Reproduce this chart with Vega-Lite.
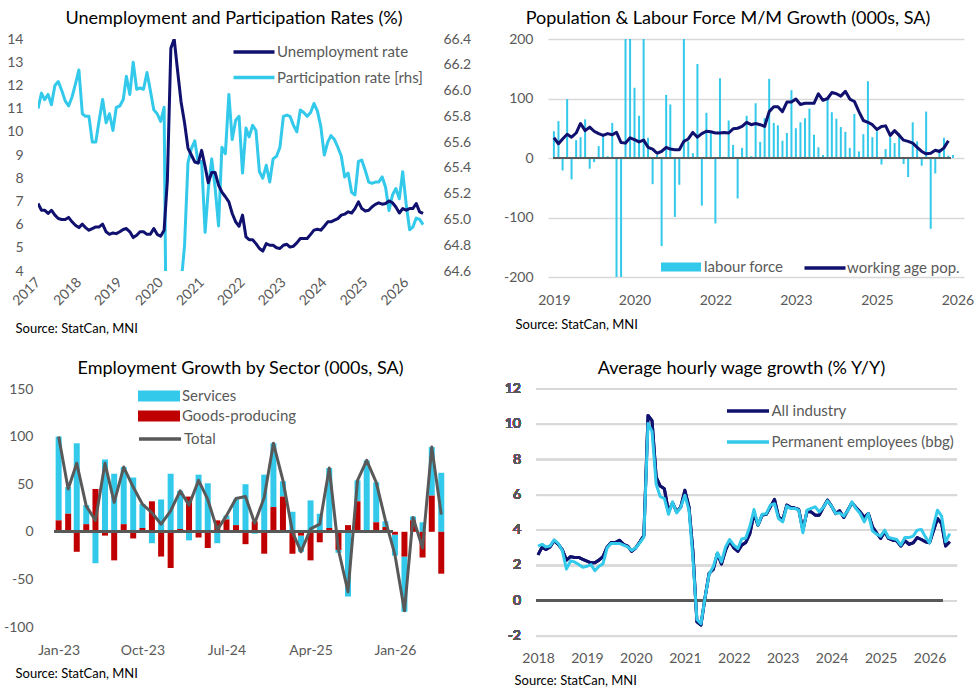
{
  "$schema": "https://vega.github.io/schema/vega-lite/v6.json",
  "background": "white",
  "padding": {"left": 0, "top": 10, "right": 0, "bottom": 0},
  "config": {
    "font": "Lato",
    "view": {"stroke": null},
    "axis": {"domain": false, "ticks": false, "labelOverlap": false, "labelFont": "Lato", "labelFontSize": 14, "labelColor": "#595959", "labelPadding": 15, "gridColor": "#d9d9d9", "gridWidth": 1.5, "titleFont": "Lato", "titleFontSize": 13, "titleFontWeight": "normal", "titleColor": "#000000"},
    "legend": {"labelFont": "Lato", "labelFontSize": 15, "labelColor": "#595959", "labelLimit": 400, "padding": 0, "orient": "none"},
    "title": {"font": "Lato", "fontSize": 18, "fontWeight": "normal", "color": "#000000", "frame": "group", "anchor": "middle", "offset": 4},
    "text": {"font": "Lato", "fontSize": 14, "color": "#595959", "align": "right", "baseline": "middle", "dx": -15}
  },
  "datasets": {
    "p1": [
      {"d":"2017-01-01","u":6.91,"p":65.86},{"d":"2017-02-01","u":6.62,"p":65.98},{"d":"2017-03-01","u":6.62,"p":65.93},{"d":"2017-04-01","u":6.48,"p":65.97},{"d":"2017-05-01","u":6.62,"p":65.89},{"d":"2017-06-01","u":6.41,"p":66.04},{"d":"2017-07-01","u":6.26,"p":66.07},{"d":"2017-08-01","u":6.22,"p":66.0},{"d":"2017-09-01","u":6.22,"p":65.92},{"d":"2017-10-01","u":6.31,"p":65.88},{"d":"2017-11-01","u":6.12,"p":65.95},{"d":"2017-12-01","u":5.97,"p":66.05},
      {"d":"2018-01-01","u":5.87,"p":66.16},{"d":"2018-02-01","u":6.02,"p":65.82},{"d":"2018-03-01","u":5.87,"p":65.8},{"d":"2018-04-01","u":5.76,"p":65.8},{"d":"2018-05-01","u":5.83,"p":65.6},{"d":"2018-06-01","u":5.9,"p":65.6},{"d":"2018-07-01","u":5.9,"p":65.77},{"d":"2018-08-01","u":6.02,"p":65.93},{"d":"2018-09-01","u":5.69,"p":65.75},{"d":"2018-10-01","u":5.58,"p":65.82},{"d":"2018-11-01","u":5.64,"p":65.69},{"d":"2018-12-01","u":5.61,"p":65.87},
      {"d":"2019-01-01","u":5.69,"p":65.88},{"d":"2019-02-01","u":5.79,"p":65.93},{"d":"2019-03-01","u":5.83,"p":66.11},{"d":"2019-04-01","u":5.69,"p":65.97},{"d":"2019-05-01","u":5.44,"p":66.22},{"d":"2019-06-01","u":5.54,"p":66.01},{"d":"2019-07-01","u":5.69,"p":66.02},{"d":"2019-08-01","u":5.69,"p":66.01},{"d":"2019-09-01","u":5.58,"p":66.14},{"d":"2019-10-01","u":5.58,"p":66.0},{"d":"2019-11-01","u":5.83,"p":65.85},{"d":"2019-12-01","u":5.58,"p":65.82},
      {"d":"2020-01-01","u":5.5,"p":65.76},{"d":"2020-02-01","u":5.76,"p":65.87},{"d":"2020-03-01","u":7.9,"p":63.0},{"d":"2020-04-01","u":13.6,"p":60.5},{"d":"2020-05-01","u":14.0,"p":61.0},{"d":"2020-06-01","u":12.6,"p":63.2},{"d":"2020-07-01","u":11.3,"p":64.5},{"d":"2020-08-01","u":10.4,"p":64.79},{"d":"2020-09-01","u":9.3,"p":65.44},{"d":"2020-10-01","u":9.0,"p":65.55},{"d":"2020-11-01","u":8.7,"p":65.61},{"d":"2020-12-01","u":8.65,"p":65.44},
      {"d":"2021-01-01","u":9.2,"p":65.45},{"d":"2021-02-01","u":8.5,"p":64.9},{"d":"2021-03-01","u":7.8,"p":65.23},{"d":"2021-04-01","u":8.25,"p":65.47},{"d":"2021-05-01","u":8.25,"p":65.25},{"d":"2021-06-01","u":7.7,"p":64.95},{"d":"2021-07-01","u":7.4,"p":65.56},{"d":"2021-08-01","u":7.2,"p":65.51},{"d":"2021-09-01","u":6.98,"p":65.97},{"d":"2021-10-01","u":6.48,"p":65.62},{"d":"2021-11-01","u":6.12,"p":65.77},{"d":"2021-12-01","u":5.93,"p":65.8},
      {"d":"2022-01-01","u":6.41,"p":65.36},{"d":"2022-02-01","u":5.47,"p":65.71},{"d":"2022-03-01","u":5.35,"p":65.64},{"d":"2022-04-01","u":5.35,"p":65.73},{"d":"2022-05-01","u":5.18,"p":65.69},{"d":"2022-06-01","u":4.97,"p":65.37},{"d":"2022-07-01","u":4.86,"p":65.32},{"d":"2022-08-01","u":5.18,"p":65.42},{"d":"2022-09-01","u":5.11,"p":65.29},{"d":"2022-10-01","u":5.11,"p":65.47},{"d":"2022-11-01","u":5.0,"p":65.49},{"d":"2022-12-01","u":4.97,"p":65.56},
      {"d":"2023-01-01","u":5.11,"p":65.8},{"d":"2023-02-01","u":5.15,"p":65.81},{"d":"2023-03-01","u":5.03,"p":65.8},{"d":"2023-04-01","u":5.07,"p":65.73},{"d":"2023-05-01","u":5.21,"p":65.68},{"d":"2023-06-01","u":5.4,"p":65.85},{"d":"2023-07-01","u":5.4,"p":65.83},{"d":"2023-08-01","u":5.4,"p":65.8},{"d":"2023-09-01","u":5.58,"p":65.83},{"d":"2023-10-01","u":5.76,"p":65.9},{"d":"2023-11-01","u":5.8,"p":65.84},{"d":"2023-12-01","u":5.76,"p":65.72},
      {"d":"2024-01-01","u":5.93,"p":65.5},{"d":"2024-02-01","u":6.12,"p":65.6},{"d":"2024-03-01","u":6.12,"p":65.65},{"d":"2024-04-01","u":6.19,"p":65.62},{"d":"2024-05-01","u":6.26,"p":65.56},{"d":"2024-06-01","u":6.41,"p":65.49},{"d":"2024-07-01","u":6.45,"p":65.33},{"d":"2024-08-01","u":6.55,"p":65.36},{"d":"2024-09-01","u":6.5,"p":65.21},{"d":"2024-10-01","u":6.69,"p":65.19},{"d":"2024-11-01","u":6.98,"p":65.45},{"d":"2024-12-01","u":6.69,"p":65.46},
      {"d":"2025-01-01","u":6.59,"p":65.38},{"d":"2025-02-01","u":6.62,"p":65.29},{"d":"2025-03-01","u":6.76,"p":65.28},{"d":"2025-04-01","u":6.87,"p":65.29},{"d":"2025-05-01","u":6.94,"p":65.29},{"d":"2025-06-01","u":6.88,"p":65.33},{"d":"2025-07-01","u":6.91,"p":65.25},{"d":"2025-08-01","u":7.02,"p":65.07},{"d":"2025-09-01","u":6.94,"p":65.19},{"d":"2025-10-01","u":6.76,"p":65.24},{"d":"2025-11-01","u":6.5,"p":65.16},{"d":"2025-12-01","u":6.69,"p":65.37},
      {"d":"2026-01-01","u":6.62,"p":65.12},{"d":"2026-02-01","u":6.69,"p":64.92},{"d":"2026-03-01","u":6.69,"p":64.94},{"d":"2026-04-01","u":6.91,"p":65.01},{"d":"2026-05-01","u":6.55,"p":65.0},{"d":"2026-06-01","u":6.48,"p":64.96}
    ],
    "p2": [
      {"d":"2019-01-01","lf":45,"wap":34},{"d":"2019-02-01","lf":62,"wap":24},{"d":"2019-03-01","lf":-21,"wap":32},{"d":"2019-04-01","lf":99,"wap":40},{"d":"2019-05-01","lf":-36,"wap":35},{"d":"2019-06-01","lf":30,"wap":42},{"d":"2019-07-01","lf":35,"wap":58},{"d":"2019-08-01","lf":65,"wap":46},{"d":"2019-09-01","lf":-18,"wap":52},{"d":"2019-10-01","lf":-7,"wap":45},{"d":"2019-11-01","lf":20,"wap":41},{"d":"2019-12-01","lf":36,"wap":38},
      {"d":"2020-01-01","lf":3,"wap":41},{"d":"2020-02-01","lf":59,"wap":39},{"d":"2020-03-01","lf":-420,"wap":43},{"d":"2020-04-01","lf":-320,"wap":26},{"d":"2020-05-01","lf":320,"wap":25},{"d":"2020-06-01","lf":270,"wap":34},{"d":"2020-07-01","lf":118,"wap":31},{"d":"2020-08-01","lf":71,"wap":27},{"d":"2020-09-01","lf":230,"wap":30},{"d":"2020-10-01","lf":34,"wap":18},{"d":"2020-11-01","lf":-44,"wap":15},{"d":"2020-12-01","lf":5,"wap":8},
      {"d":"2021-01-01","lf":-148,"wap":11},{"d":"2021-02-01","lf":106,"wap":18},{"d":"2021-03-01","lf":90,"wap":15},{"d":"2021-04-01","lf":-99,"wap":14},{"d":"2021-05-01","lf":-45,"wap":14},{"d":"2021-06-01","lf":215,"wap":28},{"d":"2021-07-01","lf":28,"wap":32},{"d":"2021-08-01","lf":8,"wap":43},{"d":"2021-09-01","lf":158,"wap":35},{"d":"2021-10-01","lf":-80,"wap":41},{"d":"2021-11-01","lf":76,"wap":45},{"d":"2021-12-01","lf":42,"wap":44},
      {"d":"2022-01-01","lf":-110,"wap":42},{"d":"2022-02-01","lf":134,"wap":42},{"d":"2022-03-01","lf":2,"wap":43},{"d":"2022-04-01","lf":63,"wap":42},{"d":"2022-05-01","lf":22,"wap":49},{"d":"2022-06-01","lf":-68,"wap":50},{"d":"2022-07-01","lf":17,"wap":53},{"d":"2022-08-01","lf":71,"wap":60},{"d":"2022-09-01","lf":3,"wap":56},{"d":"2022-10-01","lf":92,"wap":58},{"d":"2022-11-01","lf":27,"wap":56},{"d":"2022-12-01","lf":67,"wap":53},
      {"d":"2023-01-01","lf":133,"wap":78},{"d":"2023-02-01","lf":59,"wap":86},{"d":"2023-03-01","lf":55,"wap":86},{"d":"2023-04-01","lf":29,"wap":78},{"d":"2023-05-01","lf":42,"wap":94},{"d":"2023-06-01","lf":114,"wap":94},{"d":"2023-07-01","lf":50,"wap":99},{"d":"2023-08-01","lf":60,"wap":90},{"d":"2023-09-01","lf":67,"wap":92},{"d":"2023-10-01","lf":83,"wap":92},{"d":"2023-11-01","lf":39,"wap":92},{"d":"2023-12-01","lf":18,"wap":108},
      {"d":"2024-01-01","lf":5,"wap":97},{"d":"2024-02-01","lf":101,"wap":100},{"d":"2024-03-01","lf":77,"wap":110},{"d":"2024-04-01","lf":66,"wap":108},{"d":"2024-05-01","lf":52,"wap":104},{"d":"2024-06-01","lf":44,"wap":112},{"d":"2024-07-01","lf":17,"wap":99},{"d":"2024-08-01","lf":74,"wap":95},{"d":"2024-09-01","lf":11,"wap":78},{"d":"2024-10-01","lf":40,"wap":63},{"d":"2024-11-01","lf":129,"wap":60},{"d":"2024-12-01","lf":35,"wap":56},
      {"d":"2025-01-01","lf":45,"wap":48},{"d":"2025-02-01","lf":-11,"wap":53},{"d":"2025-03-01","lf":15,"wap":54},{"d":"2025-04-01","lf":35,"wap":38},{"d":"2025-05-01","lf":25,"wap":46},{"d":"2025-06-01","lf":42,"wap":38},{"d":"2025-07-01","lf":-10,"wap":30},{"d":"2025-08-01","lf":-32,"wap":28},{"d":"2025-09-01","lf":60,"wap":25},{"d":"2025-10-01","lf":28,"wap":18},{"d":"2025-11-01","lf":-13,"wap":11},{"d":"2025-12-01","lf":78,"wap":7},
      {"d":"2026-01-01","lf":-119,"wap":8},{"d":"2026-02-01","lf":-26,"wap":13},{"d":"2026-03-01","lf":15,"wap":11},{"d":"2026-04-01","lf":34,"wap":17},{"d":"2026-05-01","lf":4,"wap":29},{"d":"2026-06-01","lf":5}
    ],
    "p3": [
      {"d":"2023-01-01","Services":88,"Goods-producing":12,"Total":100},{"d":"2023-02-01","Services":28,"Goods-producing":19,"Total":45},{"d":"2023-03-01","Services":93,"Goods-producing":-21,"Total":72},{"d":"2023-04-01","Services":20,"Goods-producing":8,"Total":27},{"d":"2023-05-01","Services":-33,"Goods-producing":45,"Total":12},{"d":"2023-06-01","Services":76,"Goods-producing":-4,"Total":72},{"d":"2023-07-01","Services":61,"Goods-producing":-30,"Total":31},{"d":"2023-08-01","Services":60,"Goods-producing":8,"Total":68},{"d":"2023-09-01","Services":57,"Goods-producing":-7,"Total":47},{"d":"2023-10-01","Services":25,"Goods-producing":4,"Total":29},{"d":"2023-11-01","Services":-12,"Goods-producing":32,"Total":20},{"d":"2023-12-01","Services":34,"Goods-producing":-26,"Total":8},
      {"d":"2024-01-01","Services":61,"Goods-producing":-38,"Total":22},{"d":"2024-02-01","Services":40,"Goods-producing":3,"Total":43},{"d":"2024-03-01","Services":-9,"Goods-producing":37,"Total":28},{"d":"2024-04-01","Services":60,"Goods-producing":-6,"Total":54},{"d":"2024-05-01","Services":51,"Goods-producing":-17,"Total":34},{"d":"2024-06-01","Services":-12,"Goods-producing":12,"Total":2},{"d":"2024-07-01","Services":4,"Goods-producing":13,"Total":17},{"d":"2024-08-01","Services":27,"Goods-producing":7,"Total":35},{"d":"2024-09-01","Services":50,"Goods-producing":-13,"Total":37},{"d":"2024-10-01","Services":-2,"Goods-producing":11,"Total":9},{"d":"2024-11-01","Services":60,"Goods-producing":-23,"Total":36},{"d":"2024-12-01","Services":67,"Goods-producing":26,"Total":93},
      {"d":"2025-01-01","Services":16,"Goods-producing":37,"Total":54},{"d":"2025-02-01","Services":21,"Goods-producing":-23,"Total":0},{"d":"2025-03-01","Services":-17,"Goods-producing":-4,"Total":-21},{"d":"2025-04-01","Services":33,"Goods-producing":-30,"Total":3},{"d":"2025-05-01","Services":19,"Goods-producing":-11,"Total":8},{"d":"2025-06-01","Services":63,"Goods-producing":4,"Total":67},{"d":"2025-07-01","Services":-3,"Goods-producing":-19,"Total":-19},{"d":"2025-08-01","Services":-68,"Goods-producing":7,"Total":-63},{"d":"2025-09-01","Services":22,"Goods-producing":32,"Total":54},{"d":"2025-10-01","Services":75,"Goods-producing":0,"Total":75},{"d":"2025-11-01","Services":42,"Goods-producing":10,"Total":52},{"d":"2025-12-01","Services":6,"Goods-producing":5,"Total":12},
      {"d":"2026-01-01","Services":-22,"Goods-producing":-3,"Total":-24},{"d":"2026-02-01","Services":-58,"Goods-producing":-26,"Total":-83},{"d":"2026-03-01","Services":4,"Goods-producing":12,"Total":15},{"d":"2026-04-01","Services":10,"Goods-producing":-27,"Total":-17},{"d":"2026-05-01","Services":51,"Goods-producing":38,"Total":89},{"d":"2026-06-01","Services":62,"Goods-producing":-44,"Total":18}
    ],
    "p4": [
      {"d":"2018-01-01","a":2.6,"p":3.1},{"d":"2018-02-01","a":3.05,"p":3.2},{"d":"2018-03-01","a":2.9,"p":3.05},{"d":"2018-04-01","a":3.05,"p":3.1},{"d":"2018-05-01","a":3.4,"p":3.45},{"d":"2018-06-01","a":3.2,"p":3.25},{"d":"2018-07-01","a":2.9,"p":2.85},{"d":"2018-08-01","a":2.3,"p":1.8},{"d":"2018-09-01","a":2.5,"p":2.25},{"d":"2018-10-01","a":2.45,"p":2.2},{"d":"2018-11-01","a":2.45,"p":2.05},{"d":"2018-12-01","a":2.35,"p":1.9},
      {"d":"2019-01-01","a":2.25,"p":1.95},{"d":"2019-02-01","a":2.15,"p":2.05},{"d":"2019-03-01","a":2.15,"p":1.7},{"d":"2019-04-01","a":2.3,"p":1.95},{"d":"2019-05-01","a":2.5,"p":2.1},{"d":"2019-06-01","a":3.05,"p":3.0},{"d":"2019-07-01","a":3.3,"p":3.25},{"d":"2019-08-01","a":3.3,"p":3.25},{"d":"2019-09-01","a":3.43,"p":3.25},{"d":"2019-10-01","a":3.2,"p":3.15},{"d":"2019-11-01","a":3.1,"p":3.05},{"d":"2019-12-01","a":2.8,"p":2.85},
      {"d":"2020-01-01","a":3.0,"p":3.0},{"d":"2020-02-01","a":3.35,"p":3.3},{"d":"2020-03-01","a":3.7,"p":3.6},{"d":"2020-04-01","a":10.5,"p":10.05},{"d":"2020-05-01","a":10.2,"p":9.6},{"d":"2020-06-01","a":7.0,"p":6.6},{"d":"2020-07-01","a":6.5,"p":5.9},{"d":"2020-08-01","a":6.35,"p":5.8},{"d":"2020-09-01","a":5.04,"p":4.9},{"d":"2020-10-01","a":5.55,"p":5.6},{"d":"2020-11-01","a":5.04,"p":4.98},{"d":"2020-12-01","a":5.3,"p":5.28},
      {"d":"2021-01-01","a":6.26,"p":5.98},{"d":"2021-02-01","a":5.3,"p":5.13},{"d":"2021-03-01","a":2.9,"p":2.5},{"d":"2021-04-01","a":-1.2,"p":-1.06},{"d":"2021-05-01","a":-1.38,"p":-1.3},{"d":"2021-06-01","a":0.2,"p":0.2},{"d":"2021-07-01","a":1.55,"p":1.5},{"d":"2021-08-01","a":1.77,"p":1.92},{"d":"2021-09-01","a":2.68,"p":2.72},{"d":"2021-10-01","a":2.08,"p":2.2},{"d":"2021-11-01","a":2.87,"p":3.05},{"d":"2021-12-01","a":3.4,"p":3.47},
      {"d":"2022-01-01","a":3.0,"p":3.15},{"d":"2022-02-01","a":2.8,"p":2.96},{"d":"2022-03-01","a":3.15,"p":3.5},{"d":"2022-04-01","a":3.3,"p":3.55},{"d":"2022-05-01","a":3.8,"p":4.2},{"d":"2022-06-01","a":4.94,"p":5.17},{"d":"2022-07-01","a":4.28,"p":4.28},{"d":"2022-08-01","a":4.85,"p":4.9},{"d":"2022-09-01","a":4.9,"p":4.93},{"d":"2022-10-01","a":5.32,"p":5.42},{"d":"2022-11-01","a":5.74,"p":5.5},{"d":"2022-12-01","a":4.75,"p":4.66},
      {"d":"2023-01-01","a":4.57,"p":4.47},{"d":"2023-02-01","a":5.42,"p":5.36},{"d":"2023-03-01","a":5.3,"p":5.23},{"d":"2023-04-01","a":5.25,"p":5.23},{"d":"2023-05-01","a":5.17,"p":5.13},{"d":"2023-06-01","a":4.0,"p":3.85},{"d":"2023-07-01","a":5.04,"p":5.13},{"d":"2023-08-01","a":5.04,"p":5.23},{"d":"2023-09-01","a":4.85,"p":5.32},{"d":"2023-10-01","a":4.85,"p":5.04},{"d":"2023-11-01","a":5.3,"p":5.3},{"d":"2023-12-01","a":5.7,"p":5.66},
      {"d":"2024-01-01","a":5.36,"p":5.36},{"d":"2024-02-01","a":4.94,"p":4.94},{"d":"2024-03-01","a":5.1,"p":4.98},{"d":"2024-04-01","a":4.72,"p":4.79},{"d":"2024-05-01","a":5.13,"p":5.1},{"d":"2024-06-01","a":5.55,"p":5.6},{"d":"2024-07-01","a":5.28,"p":5.23},{"d":"2024-08-01","a":5.04,"p":4.94},{"d":"2024-09-01","a":4.72,"p":4.47},{"d":"2024-10-01","a":4.94,"p":4.94},{"d":"2024-11-01","a":4.19,"p":3.96},{"d":"2024-12-01","a":3.85,"p":3.77},
      {"d":"2025-01-01","a":3.53,"p":3.66},{"d":"2025-02-01","a":3.91,"p":4.0},{"d":"2025-03-01","a":3.53,"p":3.58},{"d":"2025-04-01","a":3.43,"p":3.53},{"d":"2025-05-01","a":3.4,"p":3.47},{"d":"2025-06-01","a":3.1,"p":3.15},{"d":"2025-07-01","a":3.4,"p":3.58},{"d":"2025-08-01","a":3.2,"p":3.58},{"d":"2025-09-01","a":3.28,"p":3.66},{"d":"2025-10-01","a":3.58,"p":4.0},{"d":"2025-11-01","a":3.47,"p":4.04},{"d":"2025-12-01","a":3.34,"p":3.62},
      {"d":"2026-01-01","a":3.28,"p":3.28},{"d":"2026-02-01","a":4.0,"p":4.28},{"d":"2026-03-01","a":4.66,"p":5.13},{"d":"2026-04-01","a":4.38,"p":4.79},{"d":"2026-05-01","a":3.1,"p":3.34},{"d":"2026-06-01","a":3.34,"p":3.8}
    ],
    "p3grid": [{"g": -100}, {"g": -50}, {"g": 0}, {"g": 50}, {"g": 100}, {"g": 150}]
  },
  "vconcat": [
    {
      "hconcat": [
        {
          "width": 390,
          "height": 232,
          "title": {"text": "Unemployment and Participation Rates (%)", "dx": 1},
          "data": {"name": "p1"},
          "encoding": {
            "x": {
              "field": "d", "type": "temporal",
              "scale": {"domain": [{"year": 2017, "month": 1, "date": 1}, {"year": 2026, "month": 7, "date": 15}]},
              "axis": {
                "values": [{"year": 2017, "month": 1, "date": 1}, {"year": 2018, "month": 1, "date": 1}, {"year": 2019, "month": 1, "date": 1}, {"year": 2020, "month": 1, "date": 1}, {"year": 2021, "month": 1, "date": 1}, {"year": 2022, "month": 1, "date": 1}, {"year": 2023, "month": 1, "date": 1}, {"year": 2024, "month": 1, "date": 1}, {"year": 2025, "month": 1, "date": 1}, {"year": 2026, "month": 1, "date": 1}],
                "format": "%Y", "labelAngle": -45, "labelAlign": "right", "labelBaseline": "middle", "labelPadding": 9, "grid": false,
                "title": "Source: StatCan, MNI", "titleAnchor": "start", "titleAlign": "left", "titleBaseline": "middle", "titleX": -23, "titleY": 57
              }
            }
          },
          "layer": [
            {
              "mark": {"type": "line", "clip": true, "strokeWidth": 3, "strokeJoin": "round"},
              "encoding": {
                "y": {
                  "field": "p", "type": "quantitative",
                  "scale": {"domain": [64.6, 66.4], "nice": false, "zero": false},
                  "axis": {"orient": "right", "grid": false, "values": [64.6, 64.8, 65.0, 65.2, 65.4, 65.6, 65.8, 66.0, 66.2, 66.4], "format": ".1f", "title": null, "minExtent": 45, "maxExtent": 45}
                },
                "stroke": {
                  "datum": "Participation rate [rhs]",
                  "scale": {"domain": ["Unemployment rate", "Participation rate [rhs]"], "range": ["#10106e", "#33c9eb"]},
                  "legend": {"title": null, "legendX": 204, "legendY": 1, "symbolType": "M-2,0H2", "symbolSize": 420, "symbolStrokeWidth": 3.5, "labelOffset": 11, "rowPadding": 5.5}
                }
              }
            },
            {
              "mark": {"type": "line", "clip": true, "strokeWidth": 3, "strokeJoin": "round"},
              "encoding": {
                "y": {
                  "field": "u", "type": "quantitative",
                  "scale": {"domain": [4, 14], "nice": false, "zero": false},
                  "axis": {"orient": "left", "values": [4, 5, 6, 7, 8, 9, 10, 11, 12, 13, 14], "title": null, "minExtent": 38, "maxExtent": 38}
                },
                "stroke": {"datum": "Unemployment rate"}
              }
            }
          ],
          "resolve": {"scale": {"y": "independent"}}
        },
        {
          "width": 416,
          "height": 238,
          "title": {"text": "Population & Labour Force M/M Growth (000s, SA)", "dx": -28},
          "data": {"name": "p2"},
          "encoding": {
            "x": {
              "field": "d", "type": "temporal",
              "scale": {"domain": [{"year": 2018, "month": 12, "date": 26}, {"year": 2026, "month": 7, "date": 12}]},
              "axis": {
                "values": [{"year": 2019, "month": 1, "date": 1}, {"year": 2020, "month": 7, "date": 1}, {"year": 2022, "month": 1, "date": 1}, {"year": 2023, "month": 7, "date": 1}, {"year": 2025, "month": 1, "date": 1}, {"year": 2026, "month": 7, "date": 1}],
                "format": "%Y", "grid": false, "labelPadding": 16,
                "title": "Source: StatCan, MNI", "titleAnchor": "start", "titleAlign": "left", "titleBaseline": "middle", "titleX": -33, "titleY": 47
              }
            }
          },
          "layer": [
            {
              "mark": {"type": "bar", "clip": true, "size": 2},
              "encoding": {
                "y": {
                  "field": "lf", "type": "quantitative",
                  "scale": {"domain": [-200, 200], "nice": false},
                  "axis": {"values": [-200, -150, -100, -50, 0, 50, 100, 150, 200], "labelExpr": "replace(datum.label, '\u2212', '-')", "title": null, "minExtent": 45, "maxExtent": 45}
                },
                "fill": {
                  "datum": "labour force",
                  "scale": {"range": ["#33c9eb"]},
                  "legend": {"title": null, "legendX": 122, "legendY": 217, "symbolType": "M-2,-0.44H2V0.44H-2Z", "symbolSize": 400, "labelOffset": 12}
                }
              }
            },
            {
              "mark": {"type": "rule", "color": "#595959", "strokeWidth": 2},
              "encoding": {
                "x": {"datum": {"year": 2018, "month": 12, "date": 26}},
                "x2": {"datum": {"year": 2026, "month": 5, "date": 15}},
                "y": {"datum": 0}
              }
            },
            {
              "mark": {"type": "line", "strokeWidth": 3, "strokeJoin": "round"},
              "encoding": {
                "y": {"field": "wap", "type": "quantitative"},
                "stroke": {
                  "datum": "working age pop.",
                  "scale": {"range": ["#10106e"]},
                  "legend": {"title": null, "legendX": 265, "legendY": 217, "symbolType": "M-2,0H2", "symbolSize": 420, "symbolStrokeWidth": 3.5, "labelOffset": 10}
                }
              }
            }
          ]
        }
      ],
      "spacing": 30,
      "resolve": {"scale": {"stroke": "independent", "fill": "independent"}}
    },
    {
      "hconcat": [
        {
          "width": 419,
          "height": 238,
          "title": {"text": "Employment Growth by Sector (000s, SA)", "dx": -7},
          "data": {"name": "p3"},
          "encoding": {
            "x": {
              "field": "d", "type": "temporal",
              "scale": {"domain": [{"year": 2022, "month": 11, "date": 11}, {"year": 2026, "month": 7, "date": 6}]},
              "axis": {
                "values": [{"year": 2023, "month": 1, "date": 1}, {"year": 2023, "month": 10, "date": 1}, {"year": 2024, "month": 7, "date": 1}, {"year": 2025, "month": 4, "date": 1}, {"year": 2026, "month": 1, "date": 1}],
                "format": "%b-%y", "grid": false, "labelPadding": 16,
                "title": "Source: StatCan, MNI", "titleAnchor": "start", "titleAlign": "left", "titleBaseline": "middle", "titleX": -23, "titleY": 46
              }
            }
          },
          "layer": [
            {
              "data": {"name": "p3grid"},
              "mark": {"type": "rule", "color": "#d9d9d9", "strokeWidth": 1.5},
              "encoding": {
                "x": {"datum": {"year": 2022, "month": 12, "date": 19}},
                "x2": {"datum": {"year": 2026, "month": 7, "date": 6}},
                "y": {"field": "g", "type": "quantitative", "title": null}
              }
            },
            {
              "transform": [
                {"fold": ["Services", "Goods-producing"], "as": ["sector", "v"]}
              ],
              "mark": {"type": "bar", "size": 6},
              "encoding": {
                "y": {
                  "field": "v", "type": "quantitative", "stack": "zero",
                  "scale": {"domain": [-100, 150], "nice": false},
                  "axis": {"values": [-100, -50, 0, 50, 100, 150], "labelExpr": "replace(datum.label, '\u2212', '-')", "grid": false, "labelPadding": 5, "title": null, "minExtent": 38, "maxExtent": 38}
                },
                "fill": {
                  "field": "sector", "type": "nominal",
                  "scale": {"domain": ["Services", "Goods-producing"], "range": ["#33c9eb", "#c00000"]},
                  "legend": {"title": null, "legendX": 109.5, "legendY": -4.5, "symbolType": "M-2,-0.52H2V0.52H-2Z", "symbolSize": 441, "labelOffset": 11.5, "rowPadding": 0}
                },
                "order": {"field": "sector", "sort": "ascending"}
              }
            },
            {
              "mark": {"type": "rule", "color": "#595959", "strokeWidth": 2},
              "encoding": {
                "x": {"datum": {"year": 2022, "month": 12, "date": 19}},
                "x2": {"datum": {"year": 2025, "month": 12, "date": 25}},
                "y": {"datum": 0}
              }
            },
            {
              "mark": {"type": "line", "strokeWidth": 3, "strokeJoin": "round"},
              "encoding": {
                "y": {"field": "Total", "type": "quantitative"},
                "stroke": {
                  "datum": "Total",
                  "scale": {"range": ["#595959"]},
                  "legend": {"title": null, "legendX": 109.5, "legendY": 37.5, "symbolType": "M-2,0H2", "symbolSize": 441, "symbolStrokeWidth": 3.5, "labelOffset": 11.5}
                }
              }
            }
          ]
        },
        {
          "width": 421,
          "height": 247,
          "title": {"text": "Average hourly wage growth (% Y/Y)", "dx": -5},
          "data": {"name": "p4"},
          "encoding": {
            "x": {
              "field": "d", "type": "temporal",
              "scale": {"domain": [{"year": 2017, "month": 12, "date": 17}, {"year": 2026, "month": 7, "date": 25}]},
              "axis": {
                "values": [{"year": 2018, "month": 1, "date": 1}, {"year": 2019, "month": 1, "date": 1}, {"year": 2020, "month": 1, "date": 1}, {"year": 2021, "month": 1, "date": 1}, {"year": 2022, "month": 1, "date": 1}, {"year": 2023, "month": 1, "date": 1}, {"year": 2024, "month": 1, "date": 1}, {"year": 2025, "month": 1, "date": 1}, {"year": 2026, "month": 1, "date": 1}],
                "format": "%Y", "grid": false, "labelPadding": 15,
                "title": "Source: StatCan, MNI", "titleAnchor": "start", "titleAlign": "left", "titleBaseline": "middle", "titleX": -22, "titleY": 44
              }
            }
          },
          "layer": [
            {"mark": {"type": "rect", "color": "#d9d9d9"}, "encoding": {"x": {"datum": {"year": 2017, "month": 12, "date": 17}}, "x2": {"datum": {"year": 2026, "month": 7, "date": 25}}, "y": {"datum": 12.04}, "y2": {"datum": 11.96}}},
            {"mark": {"type": "rect", "color": "#d9d9d9"}, "encoding": {"x": {"datum": {"year": 2017, "month": 12, "date": 17}}, "x2": {"datum": {"year": 2026, "month": 7, "date": 25}}, "y": {"datum": 10.04}, "y2": {"datum": 9.96}}},
            {"mark": {"type": "rect", "color": "#d9d9d9"}, "encoding": {"x": {"datum": {"year": 2017, "month": 12, "date": 17}}, "x2": {"datum": {"year": 2026, "month": 7, "date": 25}}, "y": {"datum": 8.04}, "y2": {"datum": 7.96}}},
            {"mark": {"type": "rect", "color": "#d9d9d9"}, "encoding": {"x": {"datum": {"year": 2017, "month": 12, "date": 17}}, "x2": {"datum": {"year": 2026, "month": 7, "date": 25}}, "y": {"datum": 6.04}, "y2": {"datum": 5.96}}},
            {"mark": {"type": "rect", "color": "#d9d9d9"}, "encoding": {"x": {"datum": {"year": 2017, "month": 12, "date": 17}}, "x2": {"datum": {"year": 2026, "month": 7, "date": 25}}, "y": {"datum": 4.04}, "y2": {"datum": 3.96}}},
            {"mark": {"type": "rect", "color": "#d9d9d9"}, "encoding": {"x": {"datum": {"year": 2017, "month": 12, "date": 17}}, "x2": {"datum": {"year": 2026, "month": 7, "date": 25}}, "y": {"datum": 2.04}, "y2": {"datum": 1.96}}},
            {"mark": {"type": "rect", "color": "#d9d9d9"}, "encoding": {"x": {"datum": {"year": 2017, "month": 12, "date": 17}}, "x2": {"datum": {"year": 2026, "month": 7, "date": 25}}, "y": {"datum": 0.04}, "y2": {"datum": -0.04}}},
            {"mark": {"type": "rect", "color": "#d9d9d9"}, "encoding": {"x": {"datum": {"year": 2017, "month": 12, "date": 17}}, "x2": {"datum": {"year": 2026, "month": 7, "date": 25}}, "y": {"datum": -1.96}, "y2": {"datum": -2.04}}},
            {
              "mark": {"type": "line", "strokeWidth": 3, "strokeJoin": "round"},
              "encoding": {
                "y": {
                  "field": "a", "type": "quantitative",
                  "scale": {"domain": [-2, 12], "nice": false},
                  "axis": {"values": [-2, 0, 2, 4, 6, 8, 10, 12], "labels": false, "grid": true, "title": null, "minExtent": 40, "maxExtent": 40}
                },
                "stroke": {
                  "datum": "All industry",
                  "scale": {"domain": ["All industry", "Permanent employees (bbg)"], "range": ["#10106e", "#33c9eb"]},
                  "legend": {"title": null, "legendX": 199.5, "legendY": 9.5, "symbolType": "M-2,0H2", "symbolSize": 441, "symbolStrokeWidth": 3.5, "labelOffset": 11, "rowPadding": 10}
                }
              }
            },
            {"mark": {"type": "text"}, "encoding": {"x": {"datum": {"year": 2017, "month": 12, "date": 17}}, "y": {"datum": 12}, "text": {"value": "12"}}},
            {"mark": {"type": "text"}, "encoding": {"x": {"datum": {"year": 2017, "month": 12, "date": 17}}, "y": {"datum": 10}, "text": {"value": "10"}}},
            {"mark": {"type": "text"}, "encoding": {"x": {"datum": {"year": 2017, "month": 12, "date": 17}}, "y": {"datum": 8}, "text": {"value": "8"}}},
            {"mark": {"type": "text"}, "encoding": {"x": {"datum": {"year": 2017, "month": 12, "date": 17}}, "y": {"datum": 6}, "text": {"value": "6"}}},
            {"mark": {"type": "text"}, "encoding": {"x": {"datum": {"year": 2017, "month": 12, "date": 17}}, "y": {"datum": 4}, "text": {"value": "4"}}},
            {"mark": {"type": "text"}, "encoding": {"x": {"datum": {"year": 2017, "month": 12, "date": 17}}, "y": {"datum": 2}, "text": {"value": "2"}}},
            {"mark": {"type": "text"}, "encoding": {"x": {"datum": {"year": 2017, "month": 12, "date": 17}}, "y": {"datum": 0}, "text": {"value": "0"}}},
            {"mark": {"type": "text"}, "encoding": {"x": {"datum": {"year": 2017, "month": 12, "date": 17}}, "y": {"datum": -2}, "text": {"value": "-2"}}},
            {
              "mark": {"type": "rule", "color": "#595959", "strokeWidth": 2},
              "encoding": {
                "x": {"datum": {"year": 2017, "month": 12, "date": 17}},
                "x2": {"datum": {"year": 2026, "month": 4, "date": 10}},
                "y": {"datum": 0}
              }
            },
            {
              "mark": {"type": "line", "strokeWidth": 3, "strokeJoin": "round"},
              "encoding": {
                "y": {"field": "a", "type": "quantitative"},
                "stroke": {"datum": "All industry"}
              }
            },
            {
              "mark": {"type": "line", "strokeWidth": 3, "strokeJoin": "round"},
              "encoding": {
                "y": {"field": "p", "type": "quantitative"},
                "stroke": {"datum": "Permanent employees (bbg)"}
              }
            }
          ]
        }
      ],
      "spacing": 39,
      "resolve": {"scale": {"stroke": "independent", "fill": "independent"}}
    }
  ],
  "spacing": 25,
  "resolve": {"scale": {"stroke": "independent", "fill": "independent"}}
}
